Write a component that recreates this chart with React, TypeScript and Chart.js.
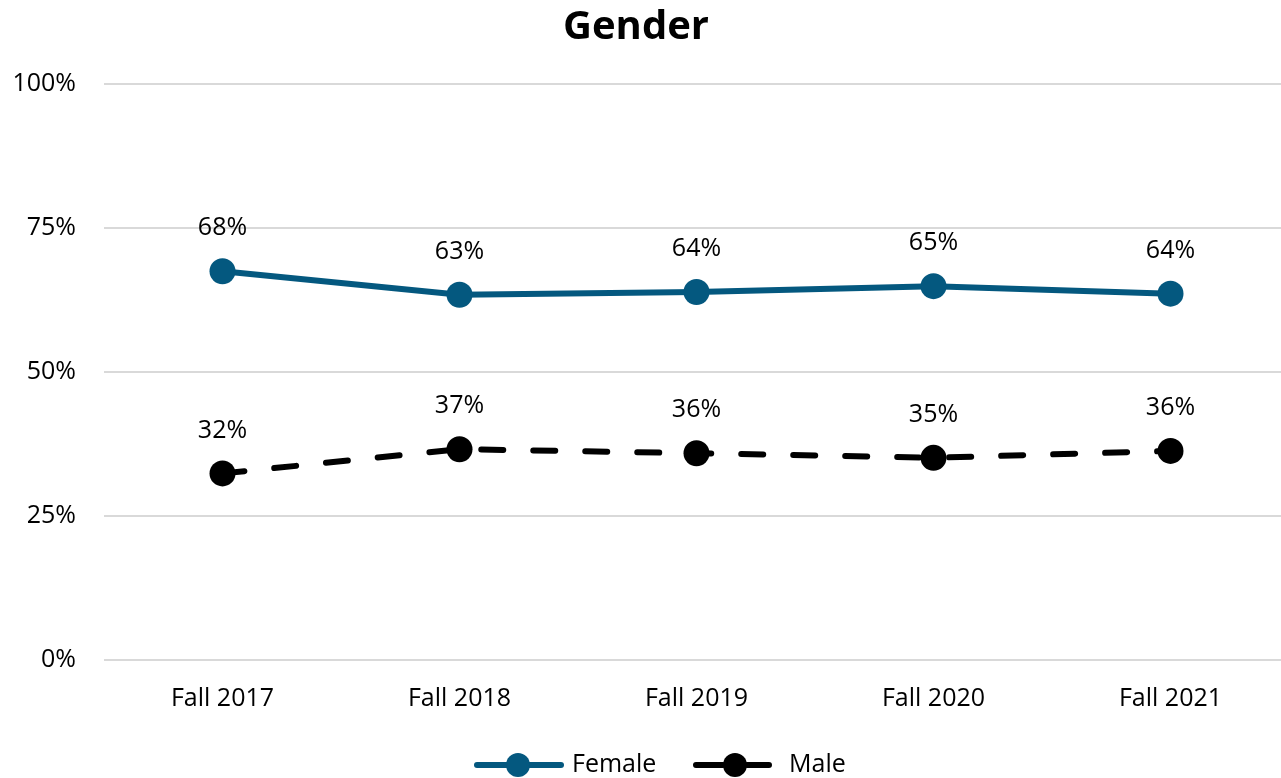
import React, { useEffect, useRef } from "react";
import { Chart, registerables } from "chart.js";

Chart.register(...registerables);

const categories = ["Fall 2017", "Fall 2018", "Fall 2019", "Fall 2020", "Fall 2021"];
const femaleValues = [67.5, 63.4, 63.9, 64.9, 63.6];
const maleValues = [32.4, 36.6, 35.9, 35.1, 36.3];
const yTickValues = [0, 25, 50, 75, 100];
const seriesNames = ["Female", "Male"];
const chartTitle = "Gender";

const FEMALE_COLOR = "#04587f";
const MALE_COLOR = "#000000";
const FONT = "'Open Sans', 'DejaVu Sans', sans-serif";
const LABEL_SIZE = 25;
const CANVAS_W = 1302;

const dataLabelPlugin = {
  id: "dataLabels",
  afterDatasetsDraw(chart: any) {
    const ctx = chart.ctx;
    ctx.save();
    ctx.font = `${LABEL_SIZE}px ${FONT}`;
    ctx.fillStyle = "#000";
    ctx.textAlign = "center";
    ctx.textBaseline = "middle";
    chart.data.datasets.forEach((ds: any, i: number) => {
      const meta = chart.getDatasetMeta(i);
      meta.data.forEach((pt: any, j: number) => {
        const v = ds.data[j] as number;
        ctx.fillText(`${Math.round(v)}%`, pt.x, pt.y - 43);
      });
    });
    ctx.restore();
  },
};

const titleLegendPlugin = {
  id: "titleLegend",
  afterDraw(chart: any) {
    const ctx = chart.ctx;
    ctx.save();
    ctx.font = `bold 40px ${FONT}`;
    ctx.fillStyle = "#000";
    ctx.textAlign = "center";
    ctx.textBaseline = "middle";
    ctx.fillText(chartTitle, 636, 28);

    const y = 765;
    const items = [
      { x0: 474, x1: 564, cx: 518, tx: 572, color: FEMALE_COLOR, dashed: false },
      { x0: 693, x1: 772, cx: 735, tx: 789, color: MALE_COLOR, dashed: true },
    ];
    chart.data.datasets.forEach((ds: any, i: number) => {
      const it = items[i];
      ctx.strokeStyle = it.color;
      ctx.fillStyle = it.color;
      ctx.lineWidth = 6;
      ctx.lineCap = "round";
      ctx.beginPath();
      if (it.dashed) {
        ctx.moveTo(it.x0 + 3, y);
        ctx.lineTo(it.cx - 12, y);
        ctx.moveTo(it.cx + 12, y);
        ctx.lineTo(it.x1 - 3, y);
      } else {
        ctx.moveTo(it.x0 + 3, y);
        ctx.lineTo(it.x1 - 3, y);
      }
      ctx.stroke();
      ctx.beginPath();
      ctx.arc(it.cx, y, 12, 0, Math.PI * 2);
      ctx.fill();
      ctx.fillStyle = "#000";
      ctx.font = `${LABEL_SIZE}px ${FONT}`;
      ctx.textAlign = "left";
      ctx.textBaseline = "middle";
      ctx.fillText(ds.label, it.tx, y);
    });
    ctx.restore();
  },
};

export default function App() {
  const ref = useRef<HTMLCanvasElement | null>(null);

  useEffect(() => {
    document.body.style.margin = "0";
    const canvas = ref.current!;
    const chart = new Chart(canvas, {
      type: "line",
      data: {
        labels: categories,
        datasets: [
          {
            label: seriesNames[0],
            data: femaleValues,
            borderColor: FEMALE_COLOR,
            backgroundColor: FEMALE_COLOR,
            borderWidth: 6,
            pointRadius: 13,
            pointHoverRadius: 13,
            pointBackgroundColor: FEMALE_COLOR,
            pointBorderWidth: 0,
            tension: 0,
          },
          {
            label: seriesNames[1],
            data: maleValues,
            borderColor: MALE_COLOR,
            backgroundColor: MALE_COLOR,
            borderWidth: 6,
            borderDash: [22, 30],
            borderCapStyle: "round",
            pointRadius: 13,
            pointHoverRadius: 13,
            pointBackgroundColor: MALE_COLOR,
            pointBorderWidth: 0,
            tension: 0,
          },
        ],
      },
      options: {
        animation: false,
        responsive: false,
        layout: { padding: { left: 0, right: 0, top: 84, bottom: 36 } },
        plugins: {
          title: { display: false },
          legend: { display: false },
          tooltip: { enabled: false },
        },
        scales: {
          x: {
            offset: true,
            grid: { display: false },
            border: { display: false },
            ticks: { color: "#000", font: { family: FONT, size: LABEL_SIZE }, padding: 16 },
            afterFit: (s: any) => {
              s.height = 82;
            },
          },
          y: {
            min: 0,
            max: 100,
            afterFit: (s: any) => {
              s.width = 104;
            },
            afterBuildTicks: (s: any) => {
              s.ticks = yTickValues.map((v) => ({ value: v }));
            },
            grid: { color: "#d9d9d9", lineWidth: 2, drawTicks: false },
            border: { display: false },
            ticks: {
              color: "#000",
              font: { family: FONT, size: LABEL_SIZE },
              padding: 28,
              callback: (v: any) => `${v}%`,
            },
          },
        },
      },
      plugins: [dataLabelPlugin, titleLegendPlugin],
    });
    return () => chart.destroy();
  }, []);

  return (
    <div style={{ position: "absolute", left: 0, top: 0, width: 1281, height: 778, overflow: "hidden" }}>
      <canvas ref={ref} width={CANVAS_W} height={778} style={{ width: CANVAS_W, height: 778 }} />
    </div>
  );
}
